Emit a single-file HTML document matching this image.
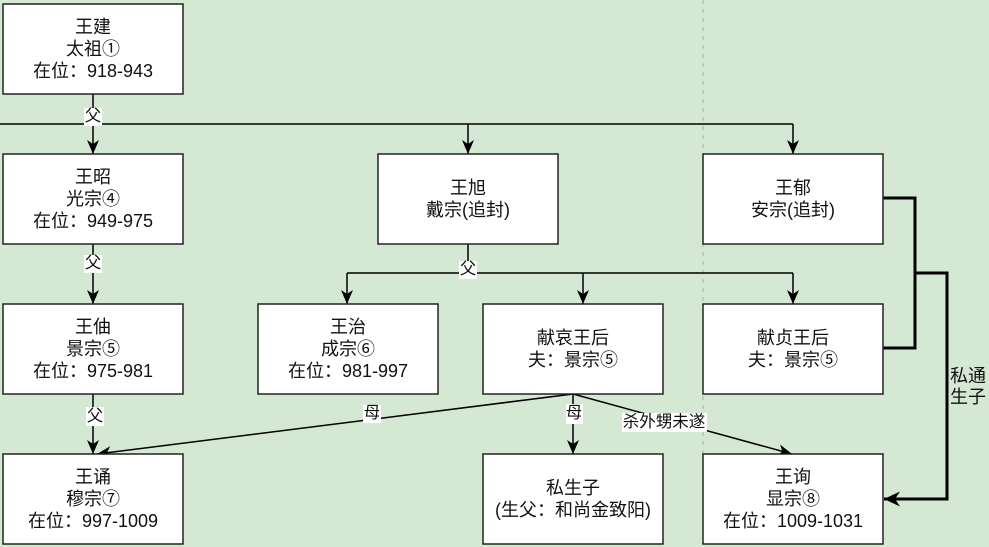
<!DOCTYPE html>
<html><head><meta charset="utf-8">
<style>
html,body{margin:0;padding:0;background:#d5e8d4;}
svg{display:block;}
text{font-family:"Liberation Sans","Noto Sans CJK SC",sans-serif;fill:#111;}
</style></head>
<body>
<svg width="989" height="547" viewBox="0 0 989 547" xmlns="http://www.w3.org/2000/svg">
<defs>
<marker id="a" markerUnits="userSpaceOnUse" markerWidth="15" markerHeight="13" refX="14" refY="6.5" orient="auto" viewBox="0 0 15 13">
<path d="M0,0.5 L14,6.5 L0,12.5 L4,6.5 Z" fill="#000"/>
</marker>
<marker id="b" markerUnits="userSpaceOnUse" markerWidth="17" markerHeight="16" refX="16" refY="8" orient="auto" viewBox="0 0 17 16">
<path d="M0,0.5 L16,8 L0,15.5 L5,8 Z" fill="#000"/>
</marker>
</defs>
<rect width="989" height="547" fill="#d5e8d4"/>
<line x1="703" y1="0" x2="703" y2="547" stroke="#a4aea3" stroke-width="1" stroke-dasharray="4,5"/>

<g fill="none" stroke="#000" stroke-width="1.5">
<path d="M93,94 V124"/>
<path d="M0,124 H793"/>
<path d="M93,124 V154" marker-end="url(#a)"/>
<path d="M468,124 V154" marker-end="url(#a)"/>
<path d="M793,124 V154" marker-end="url(#a)"/>
<path d="M93,244 V304" marker-end="url(#a)"/>
<path d="M468,244 V273"/>
<path d="M347,273 H793"/>
<path d="M347,273 V304" marker-end="url(#a)"/>
<path d="M583,273 V304" marker-end="url(#a)"/>
<path d="M793,273 V304" marker-end="url(#a)"/>
<path d="M93,394 V454" marker-end="url(#a)"/>
<path d="M573,394 L97,454" marker-end="url(#a)"/>
<path d="M573,394 V454" marker-end="url(#a)"/>
<path d="M573,394 L792,454" marker-end="url(#a)"/>
</g>
<g fill="none" stroke="#000" stroke-width="3">
<path d="M883,198 H915 V348 H883"/>
<path d="M915,273 H947 V499 H884" marker-end="url(#b)"/>
</g>

<g font-size="16.5" text-anchor="middle" dominant-baseline="central">
<rect x="84" y="108" width="18" height="18" fill="#fff"/><text x="93" y="116">父</text>
<rect x="84" y="255" width="18" height="18" fill="#fff"/><text x="93" y="263">父</text>
<rect x="459" y="261" width="18" height="18" fill="#fff"/><text x="468" y="269">父</text>
<rect x="86" y="407" width="18" height="19" fill="#fff"/><text x="95" y="416">父</text>
<rect x="363" y="405" width="18" height="18" fill="#fff"/><text x="372" y="413">母</text>
<rect x="566" y="404" width="17" height="20" fill="#fff"/><text x="574" y="413">母</text>
<rect x="622" y="413" width="85" height="19" fill="#fff"/><text x="664" y="422">杀外甥未遂</text>
</g>
<g font-size="18" dominant-baseline="central">
<text x="950" y="376">私通</text>
<text x="950" y="397">生子</text>
</g>

<g fill="#fff" stroke="#222" stroke-width="1.5">
<rect x="3" y="4" width="180" height="90"/>
<rect x="3" y="154" width="180" height="90"/>
<rect x="378" y="154" width="180" height="90"/>
<rect x="703" y="154" width="180" height="90"/>
<rect x="3" y="304" width="180" height="90"/>
<rect x="258" y="304" width="180" height="90"/>
<rect x="483" y="304" width="180" height="90"/>
<rect x="703" y="304" width="180" height="90"/>
<rect x="3" y="454" width="180" height="90"/>
<rect x="483" y="454" width="180" height="90"/>
<rect x="703" y="454" width="180" height="90"/>
</g>
<g font-size="18" text-anchor="middle" dominant-baseline="central">
<text x="93" y="27">王建</text><text x="93" y="49">太祖①</text><text x="93" y="71">在位：918-943</text>
<text x="93" y="177">王昭</text><text x="93" y="199">光宗④</text><text x="93" y="221">在位：949-975</text>
<text x="468" y="188">王旭</text><text x="468" y="210">戴宗(追封)</text>
<text x="793" y="188">王郁</text><text x="793" y="210">安宗(追封)</text>
<text x="93" y="327">王伷</text><text x="93" y="349">景宗⑤</text><text x="93" y="371">在位：975-981</text>
<text x="348" y="327">王治</text><text x="348" y="349">成宗⑥</text><text x="348" y="371">在位：981-997</text>
<text x="573" y="338">献哀王后</text><text x="573" y="360">夫：景宗⑤</text>
<text x="793" y="338">献贞王后</text><text x="793" y="360">夫：景宗⑤</text>
<text x="93" y="477">王诵</text><text x="93" y="499">穆宗⑦</text><text x="93" y="521">在位：997-1009</text>
<text x="573" y="488">私生子</text><text x="573" y="510">(生父：和尚金致阳)</text>
<text x="793" y="477">王询</text><text x="793" y="499">显宗⑧</text><text x="793" y="521">在位：1009-1031</text>
</g>
</svg>
</body></html>
